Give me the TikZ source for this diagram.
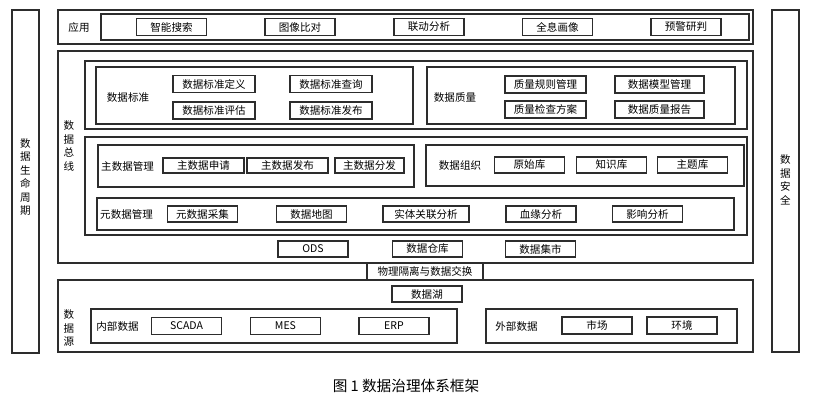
\documentclass[tikz,border=0pt]{standalone}
\usepackage{fontspec}
\setmainfont{Noto Sans CJK SC}
\definecolor{ink}{RGB}{45,45,45}
\tikzset{
  frame/.style={draw=ink,line width=0.9pt,inner sep=0pt},
  panel/.style={draw=ink,line width=1.3pt,inner sep=0pt},
  btn/.style={draw=ink,line width=1.3pt,minimum width=21mm,minimum height=5mm,
    inner sep=0pt,font=\fontsize{9}{10}\selectfont},
  tag/.style={font=\fontsize{9}{10}\selectfont,inner sep=0pt},
  vtag/.style={font=\fontsize{9}{11.5}\selectfont,align=center,inner sep=0pt},
}
\begin{document}
\begin{tikzpicture}[x=0.3mm,y=-0.3mm]
    \useasboundingbox (0,0) rectangle (814,401);
    % side bars
    \node[frame,minimum width=8.1mm,minimum height=102.9mm] (life) at (25.5,181.5) {};
    \node[vtag] (lifet) at (25.5,177) {数\\据\\生\\命\\周\\期};
    \node[frame,minimum width=8.1mm,minimum height=102.6mm] (safe) at (785.5,181) {};
    \node[vtag] (safet) at (785.5,180) {数\\据\\安\\全};
    % application layer
    \node[frame,minimum width=208.5mm,minimum height=10.2mm] (app) at (405.5,27) {};
    \node[panel,minimum width=194.4mm,minimum height=7.8mm] (appin) at (425,27) {};
    \node[tag] (appt) at (79,27) {应用};
    \node[btn] (a1) at (171.5,27) {智能搜索};
    \node[btn] (a2) at (300,27) {图像比对};
    \node[btn] (a3) at (429,27) {联动分析};
    \node[btn] (a4) at (557.5,27) {全息画像};
    \node[btn] (a5) at (686,27) {预警研判};
    % data bus
    \node[frame,minimum width=208.5mm,minimum height=63.6mm] (bus) at (405.5,157) {};
    \node[vtag] (bust) at (69,146) {数\\据\\总\\线};
    \node[panel,minimum width=198.6mm,minimum height=20.4mm] (rowa) at (416,95) {};
    \node[panel,minimum width=95.1mm,minimum height=17.1mm] (std) at (254.5,95.5) {};
    \node[tag] (stdt) at (128,97) {数据标准};
    \node[btn,minimum width=24.6mm] (s1) at (214,84) {数据标准定义};
    \node[btn,minimum width=24.6mm] (s2) at (331,84) {数据标准查询};
    \node[btn,minimum width=24.6mm] (s3) at (214,110.5) {数据标准评估};
    \node[btn,minimum width=24.6mm] (s4) at (331,110.5) {数据标准发布};
    \node[panel,minimum width=92.4mm,minimum height=17.1mm] (qual) at (581,95.5) {};
    \node[tag] (qualt) at (455,97) {数据质量};
    \node[btn,minimum width=24.3mm] (q1) at (545.5,84.5) {质量规则管理};
    \node[btn,minimum width=26.7mm] (q2) at (659.5,84.5) {数据模型管理};
    \node[btn,minimum width=24.3mm] (q3) at (545.5,109.5) {质量检查方案};
    \node[btn,minimum width=26.7mm] (q4) at (659.5,109.5) {数据质量报告};
    \node[panel,minimum width=198.6mm,minimum height=29.4mm] (rowb) at (416,186) {};
    \node[panel,minimum width=94.8mm,minimum height=12.6mm] (mdm) at (256,166) {};
    \node[tag,anchor=west] (mdmt) at (101,166) {主数据管理};
    \node[btn,minimum width=24.3mm,minimum height=4.6mm] (m1) at (203.5,165.5) {主数据申请};
    \node[btn,minimum width=24.3mm,minimum height=4.6mm] (m2) at (287.5,165.5) {主数据发布};
    \node[btn,minimum width=20.7mm,minimum height=4.6mm] (m3) at (369.5,165.5) {主数据分发};
    \node[panel,minimum width=95.4mm,minimum height=12.3mm] (org) at (585,165.5) {};
    \node[tag] (orgt) at (460,165) {数据组织};
    \node[btn,minimum height=4.8mm] (o1) at (529.5,165) {原始库};
    \node[btn,minimum height=4.8mm] (o2) at (611.5,165) {知识库};
    \node[btn,minimum height=4.8mm] (o3) at (692.5,165) {主题库};
    \node[panel,minimum width=191.1mm,minimum height=9.6mm] (meta) at (415.5,214) {};
    \node[tag,anchor=west] (metat) at (100,214) {元数据管理};
    \node[btn,minimum height=4.8mm] (e1) at (202.5,214) {元数据采集};
    \node[btn,minimum height=4.8mm] (e2) at (311.5,214) {数据地图};
    \node[btn,minimum width=25.8mm,minimum height=4.8mm] (e3) at (426,214) {实体关联分析};
    \node[btn,minimum height=4.8mm] (e4) at (541,214) {血缘分析};
    \node[btn,minimum height=4.8mm] (e5) at (647.5,214) {影响分析};
    \node[btn,minimum height=4.8mm] (w1) at (313,249) {ODS};
    \node[btn,minimum height=4.8mm] (w2) at (427.5,249) {数据仓库};
    \node[btn,minimum height=4.8mm] (w3) at (540.5,249) {数据集市};
    % exchange
    \node[frame,minimum width=34.8mm,minimum height=5.1mm,font=\fontsize{9}{10}\selectfont] (xchg) at (425,271.5) {物理隔离与数据交换};
    % data sources
    \node[frame,minimum width=208.5mm,minimum height=21.6mm] (src) at (405.5,316) {};
    \node[vtag] (srct) at (69,328) {数\\据\\源};
    \node[btn,minimum height=4.8mm] (lake) at (427,294) {数据湖};
    \node[panel,minimum width=109.8mm,minimum height=10.2mm] (inner) at (274,326) {};
    \node[tag] (innert) at (117.5,326) {内部数据};
    \node[btn,minimum height=5.2mm] (i1) at (186.5,326) {SCADA};
    \node[btn,minimum height=5.2mm] (i2) at (285.5,326) {MES};
    \node[btn,minimum height=5.2mm] (i3) at (394,326) {ERP};
    \node[panel,minimum width=75.3mm,minimum height=10.2mm] (outer) at (611.5,326) {};
    \node[tag] (outert) at (516.5,326) {外部数据};
    \node[btn,minimum height=5.1mm] (x1) at (597,325.5) {市场};
    \node[btn,minimum height=5.1mm] (x2) at (682,325.5) {环境};
    % caption
    \node[font=\fontsize{12.5}{14}\selectfont] (cap) at (406,386) {图~1~数据治理体系框架};
\end{tikzpicture}
\end{document}
